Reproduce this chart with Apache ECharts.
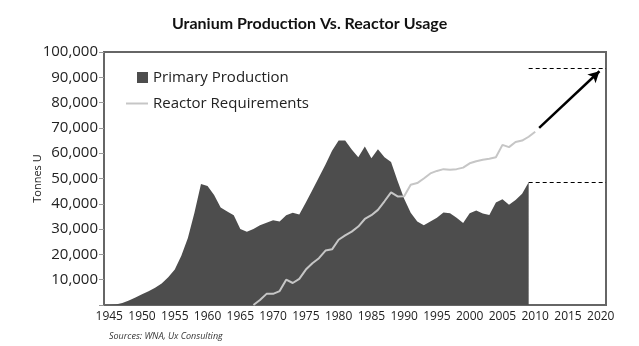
<!DOCTYPE html>
<html>
<head>
<meta charset="utf-8">
<style>
  html, body { margin: 0; padding: 0; background: #fff; }
  #chart { width: 639px; height: 346px; }
</style>
<script src="https://cdn.jsdelivr.net/npm/echarts@6/dist/echarts.min.js"></script>
</head>
<body>
<div id="chart"></div>
<script>
// Primary uranium production (tonnes U), yearly
const productionYears = [
  1945, 1946, 1947, 1948, 1949, 1950, 1951, 1952, 1953, 1954,
  1955, 1956, 1957, 1958, 1959, 1960, 1961, 1962, 1963, 1964,
  1965, 1966, 1967, 1968, 1969, 1970, 1971, 1972, 1973, 1974,
  1975, 1976, 1977, 1978, 1979, 1980, 1981, 1982, 1983, 1984,
  1985, 1986, 1987, 1988, 1989, 1990, 1991, 1992, 1993, 1994,
  1995, 1996, 1997, 1998, 1999, 2000, 2001, 2002, 2003, 2004,
  2005, 2006, 2007, 2008, 2009
];
const production = [
  0, 200, 800, 1800, 3000, 4200, 5400, 6800, 8500, 11000,
  14000, 19500, 26500, 36500, 47800, 47000, 43500, 38500, 37000, 35500,
  30000, 29000, 30000, 31500, 32500, 33500, 33000, 35500, 36500, 35800,
  40500, 45500, 50500, 55500, 61000, 65000, 65000, 61500, 58400, 62600,
  58000, 61600, 58400, 56500, 49000, 42000, 36500, 33000, 31500, 33000,
  34500, 36600, 36300, 34500, 32400, 36300, 37400, 36200, 35600, 40500,
  41800, 39600, 41500, 44000, 48500
];

// Reactor requirements (tonnes U), yearly
const reactorYears = [
  1967, 1968, 1969, 1970, 1971, 1972, 1973, 1974, 1975, 1976,
  1977, 1978, 1979, 1980, 1981, 1982, 1983, 1984, 1985, 1986,
  1987, 1988, 1989, 1990, 1991, 1992, 1993, 1994, 1995, 1996,
  1997, 1998, 1999, 2000, 2001, 2002, 2003, 2004, 2005, 2006,
  2007, 2008, 2009, 2010
];
const reactor = [
  0, 2000, 4400, 4400, 5500, 10000, 8700, 10300, 14000, 16500,
  18500, 21500, 22000, 25800, 27500, 29000, 31000, 34000, 35500, 37600,
  41000, 44500, 42900, 43000, 47500, 48200, 50000, 52000, 53000, 53700,
  53500, 53700, 54300, 56000, 56800, 57400, 57800, 58400, 63300, 62400,
  64400, 65000, 66500, 68500
];

// Projected requirement trend to 2020: [year, tonnes U]
const trendStart = [2010.6, 70000];
const trendEnd = [2019.8, 92400];
const projected2020 = 93700;

// Axis ticks
const yearTicks = [1945, 1950, 1955, 1960, 1965, 1970, 1975, 1980, 1985, 1990,
                   1995, 2000, 2005, 2010, 2015, 2020];
const xMin = 1944.2, xMax = 2020.8;

const lastProdYear = productionYears[productionYears.length - 1];
const lastProd = production[production.length - 1];

const prodData = productionYears.map((y, i) => [y, production[i]]);
const reactorData = reactorYears.map((y, i) => [y, reactor[i]]);

const labelFont = '"Open Sans", "Noto Sans", sans-serif';
const fmt = v => v === 0 ? '' : v.toLocaleString('en-US');

const chart = echarts.init(document.getElementById('chart'), null, { renderer: 'canvas' });
chart.setOption({
  animation: false,
  backgroundColor: '#fff',
  title: [{
    text: 'Uranium Production Vs. Reactor Usage',
    left: 167, top: 11,
    textStyle: { fontFamily: 'Lato, sans-serif', fontSize: 16, fontWeight: 'bold', color: '#111' }
  }, {
    text: 'Sources: WNA, Ux Consulting',
    left: 104, top: 327,
    textStyle: { fontFamily: labelFont, fontSize: 9, fontStyle: 'italic', fontWeight: 'normal', color: '#333' }
  }],
  legend: [{
    data: ['Primary Production'],
    left: 132, top: 65,
    icon: 'rect', itemWidth: 11, itemHeight: 11,
    textStyle: { fontFamily: labelFont, fontSize: 15, color: '#222' }
  }, {
    data: ['Reactor Requirements'],
    left: 121, top: 91,
    icon: 'rect', itemWidth: 22, itemHeight: 2,
    textStyle: { fontFamily: labelFont, fontSize: 15, color: '#222' }
  }],
  grid: {
    left: 104, right: 33, top: 52, bottom: 41,
    show: true, borderColor: '#666', borderWidth: 2,
    outerBoundsMode: 'none'
  },
  xAxis: {
    type: 'value', min: xMin, max: xMax,
    axisLine: { show: true, lineStyle: { color: '#666', width: 2 } },
    axisTick: { show: false },
    splitLine: { show: false },
    axisLabel: {
      customValues: yearTicks,
      formatter: v => String(Math.round(v)),
      fontFamily: labelFont, fontSize: 12, color: '#222', margin: 6
    }
  },
  yAxis: {
    type: 'value', min: 0, max: 100000, interval: 10000,
    name: 'Tonnes U', nameLocation: 'middle', nameGap: 61, nameRotate: 90,
    nameMoveOverlap: false,
    nameTextStyle: { fontFamily: labelFont, fontSize: 11, color: '#222' },
    axisLine: { show: true, lineStyle: { color: '#666', width: 2 } },
    axisTick: { show: true, length: 5, lineStyle: { color: '#999', width: 1 } },
    splitLine: { show: false },
    axisLabel: { formatter: fmt, fontFamily: labelFont, fontSize: 15, color: '#222', margin: 6 }
  },
  series: [{
    name: 'Primary Production',
    type: 'line',
    data: prodData,
    symbol: 'none',
    lineStyle: { width: 0 },
    itemStyle: { color: '#4d4d4d' },
    areaStyle: { color: '#4d4d4d', opacity: 1 },
    z: 2,
    markLine: {
      silent: true, symbol: ['none', 'none'], animation: false,
      label: { show: false },
      lineStyle: { type: [4, 3], color: '#000', width: 1.2 },
      data: [
        [{ coord: [lastProdYear, lastProd] }, { coord: [xMax, lastProd] }],
        [{ coord: [lastProdYear, projected2020] }, { coord: [xMax, projected2020] }]
      ]
    }
  }, {
    name: 'Reactor Requirements',
    type: 'line',
    data: reactorData,
    symbol: 'none',
    lineStyle: { width: 2, color: '#c6c6c6' },
    itemStyle: { color: '#c6c6c6' },
    z: 3,
    markLine: {
      silent: true, symbol: ['none', 'arrow'], symbolSize: [9, 11], animation: false,
      label: { show: false },
      lineStyle: { type: 'solid', color: '#000', width: 2.5 },
      data: [[{ coord: trendStart }, { coord: trendEnd }]]
    }
  }]
});
</script>
</body>
</html>
